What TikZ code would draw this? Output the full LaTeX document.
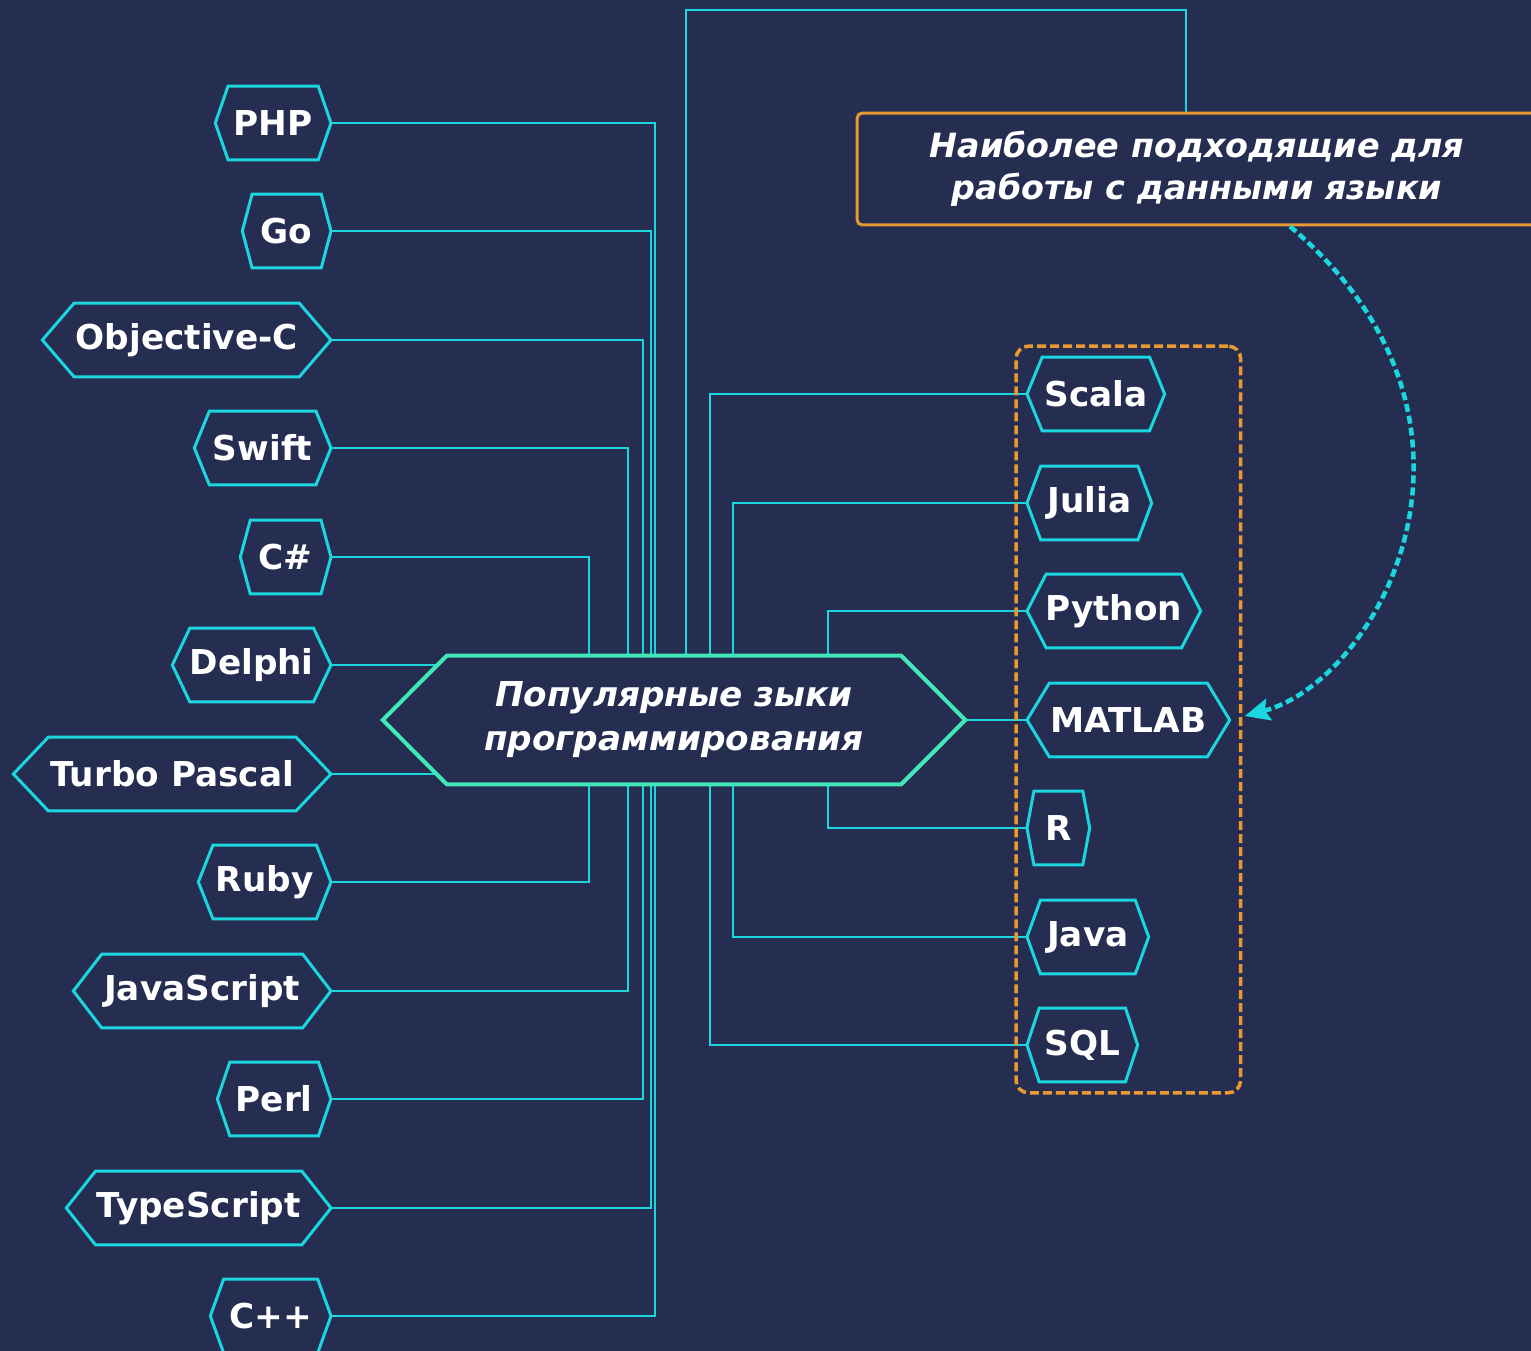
\documentclass[tikz,border=0pt]{standalone}
\usepackage{fontspec}
\setmainfont{DejaVu Sans}
\usetikzlibrary{calc,arrows.meta,positioning,fit}
\definecolor{bgnavy}{RGB}{37,45,81}
\definecolor{cyanline}{RGB}{27,214,222}
\definecolor{hubgreen}{RGB}{64,232,184}
\definecolor{accent}{RGB}{232,154,48}
\pgfdeclarelayer{back}
\pgfsetlayers{back,main}

\begin{document}
\begin{tikzpicture}[
  x=0.02cm,y=-0.02cm,>=Stealth,
  every node/.style={font=\bfseries\fontsize{19.5}{23}\selectfont,text=white},
  lang/.style={minimum height=1.46cm,inner sep=0pt},
  link/.style={draw=cyanline,line width=1.1pt},
  hexline/.style={draw=cyanline,fill=bgnavy,line width=1.7pt},
  hubline/.style={draw=hubgreen,fill=bgnavy,line width=2.3pt},
  hubtext/.style={minimum width=11.64cm,minimum height=2.56cm,align=center,
    font=\bfseries\itshape\fontsize{19.5}{25}\selectfont},
  notebox/.style={draw=accent,line width=1.7pt,rounded corners=3pt,fill=bgnavy,
    minimum width=13.6cm,minimum height=2.24cm,align=center,
    font=\bfseries\itshape\fontsize{19}{24}\selectfont},
  pickbox/.style={draw=accent,line width=2pt,dash pattern=on 0.18cm off 0.08cm,
    rounded corners=0.25cm,inner sep=0.22cm},
  hint/.style={draw=cyanline,line width=2.6pt,dash pattern=on 0.16cm off 0.08cm}
]
  \useasboundingbox (0,0) rectangle (1531,1351);

  % Hub and note
  \node[hubtext] (hub) at (674,720) {Популярные зыки\\программирования};
  \node[notebox] (note) at (1197,169) {Наиболее подходящие для\\работы с данными языки};

  % Left column (right ends aligned)
  \node[lang,anchor=east,minimum width=2.30cm] (php)    at (331,123)  {PHP};
  \node[lang,anchor=east,minimum width=1.76cm] (go)     at (331,231)  {Go};
  \node[lang,anchor=east,minimum width=5.76cm] (objc)   at (331,340)  {Objective-C};
  \node[lang,anchor=east,minimum width=2.72cm] (swift)  at (331,448)  {Swift};
  \node[lang,anchor=east,minimum width=1.80cm] (csharp) at (331,557)  {C\#};
  \node[lang,anchor=east,minimum width=3.16cm] (delphi) at (331,665)  {Delphi};
  \node[lang,anchor=east,minimum width=6.34cm] (turbo)  at (331,774)  {Turbo Pascal};
  \node[lang,anchor=east,minimum width=2.64cm] (ruby)   at (331,882)  {Ruby};
  \node[lang,anchor=east,minimum width=5.14cm] (js)     at (331,991)  {JavaScript};
  \node[lang,anchor=east,minimum width=2.26cm] (perl)   at (331,1099) {Perl};
  \node[lang,anchor=east,minimum width=5.28cm] (ts)     at (331,1208) {TypeScript};
  \node[lang,anchor=east,minimum width=2.40cm] (cpp)    at (331,1316) {C++};

  % Right column (left ends aligned)
  \node[lang,anchor=west,minimum width=2.74cm] (scala)  at (1027,394)  {Scala};
  \node[lang,anchor=west,minimum width=2.48cm] (julia)  at (1027,503)  {Julia};
  \node[lang,anchor=west,minimum width=3.46cm] (python) at (1027,611)  {Python};
  \node[lang,anchor=west,minimum width=4.04cm] (matlab) at (1027,720)  {MATLAB};
  \node[lang,anchor=west,minimum width=1.24cm] (rlang)  at (1027,828)  {R};
  \node[lang,anchor=west,minimum width=2.42cm] (java)   at (1027,937)  {Java};
  \node[lang,anchor=west,minimum width=2.20cm] (sql)    at (1027,1045) {SQL};

  % Data-science group
  \node[pickbox,fit=(scala)(matlab)(sql)] (pick) {};
  \draw[hint,-{Stealth[length=0.5cm,width=0.44cm,inset=0.08cm]}] ($(note.south)+(93,0)$)
    .. controls (1520,420) and (1380,680) .. ($(matlab.east)+(15,-4)$);

  \begin{pgfonlayer}{back}
    \fill[bgnavy] (0,0) rectangle (1531,1351);

    % left connectors
    \draw[link] (php.east)    -| ($(hub.north)+(-19,0)$);
    \draw[link] (go.east)     -| ($(hub.north)+(-23,0)$);
    \draw[link] (objc.east)   -| ($(hub.north)+(-31,0)$);
    \draw[link] (swift.east)  -| ($(hub.north)+(-46,0)$);
    \draw[link] (csharp.east) -| ($(hub.north)+(-85,0)$);
    \draw[link] (delphi.east) -- (delphi.east -| hub.center);
    \draw[link] (turbo.east)  -- (turbo.east -| hub.center);
    \draw[link] (ruby.east)   -| ($(hub.south)+(-85,0)$);
    \draw[link] (js.east)     -| ($(hub.south)+(-46,0)$);
    \draw[link] (perl.east)   -| ($(hub.south)+(-31,0)$);
    \draw[link] (ts.east)     -| ($(hub.south)+(-23,0)$);
    \draw[link] (cpp.east)    -| ($(hub.south)+(-19,0)$);

    % right connectors
    \draw[link] (scala.west)  -| ($(hub.north)+(36,0)$);
    \draw[link] (julia.west)  -| ($(hub.north)+(59,0)$);
    \draw[link] (python.west) -| ($(hub.north)+(154,0)$);
    \draw[link] (matlab.west) -- (hub.east);
    \draw[link] (rlang.west)  -| ($(hub.south)+(154,0)$);
    \draw[link] (java.west)   -| ($(hub.south)+(59,0)$);
    \draw[link] (sql.west)    -| ($(hub.south)+(36,0)$);

    % hub to note
    \coordinate (bend) at (1186,10);
    \draw[link] ($(hub.north)+(12,0)$) |- (bend) -- ($(note.north)+(-11,0)$);

    % hexagon frames
    \foreach \k in {php,go,objc,swift,csharp,delphi,turbo,ruby,js,perl,ts,cpp,
                    scala,julia,python,matlab,rlang,java,sql}
      \draw[hexline] let \p1=(\k.north west), \p2=(\k.south east), \p3=(\k.west), \p4=(\k.east),
        \n1={0.11*(\x2-\x1)} in
        (\p3) -- (\x1+\n1,\y1) -- (\x2-\n1,\y1) -- (\p4) -- (\x2-\n1,\y2) -- (\x1+\n1,\y2) -- cycle;
    \draw[hubline] let \p1=(hub.north west), \p2=(hub.south east), \n1={0.11*(\x2-\x1)} in
      (hub.west) -- (\x1+\n1,\y1) -- (\x2-\n1,\y1) -- (hub.east) -- (\x2-\n1,\y2) -- (\x1+\n1,\y2) -- cycle;
  \end{pgfonlayer}
\end{tikzpicture}
\end{document}
